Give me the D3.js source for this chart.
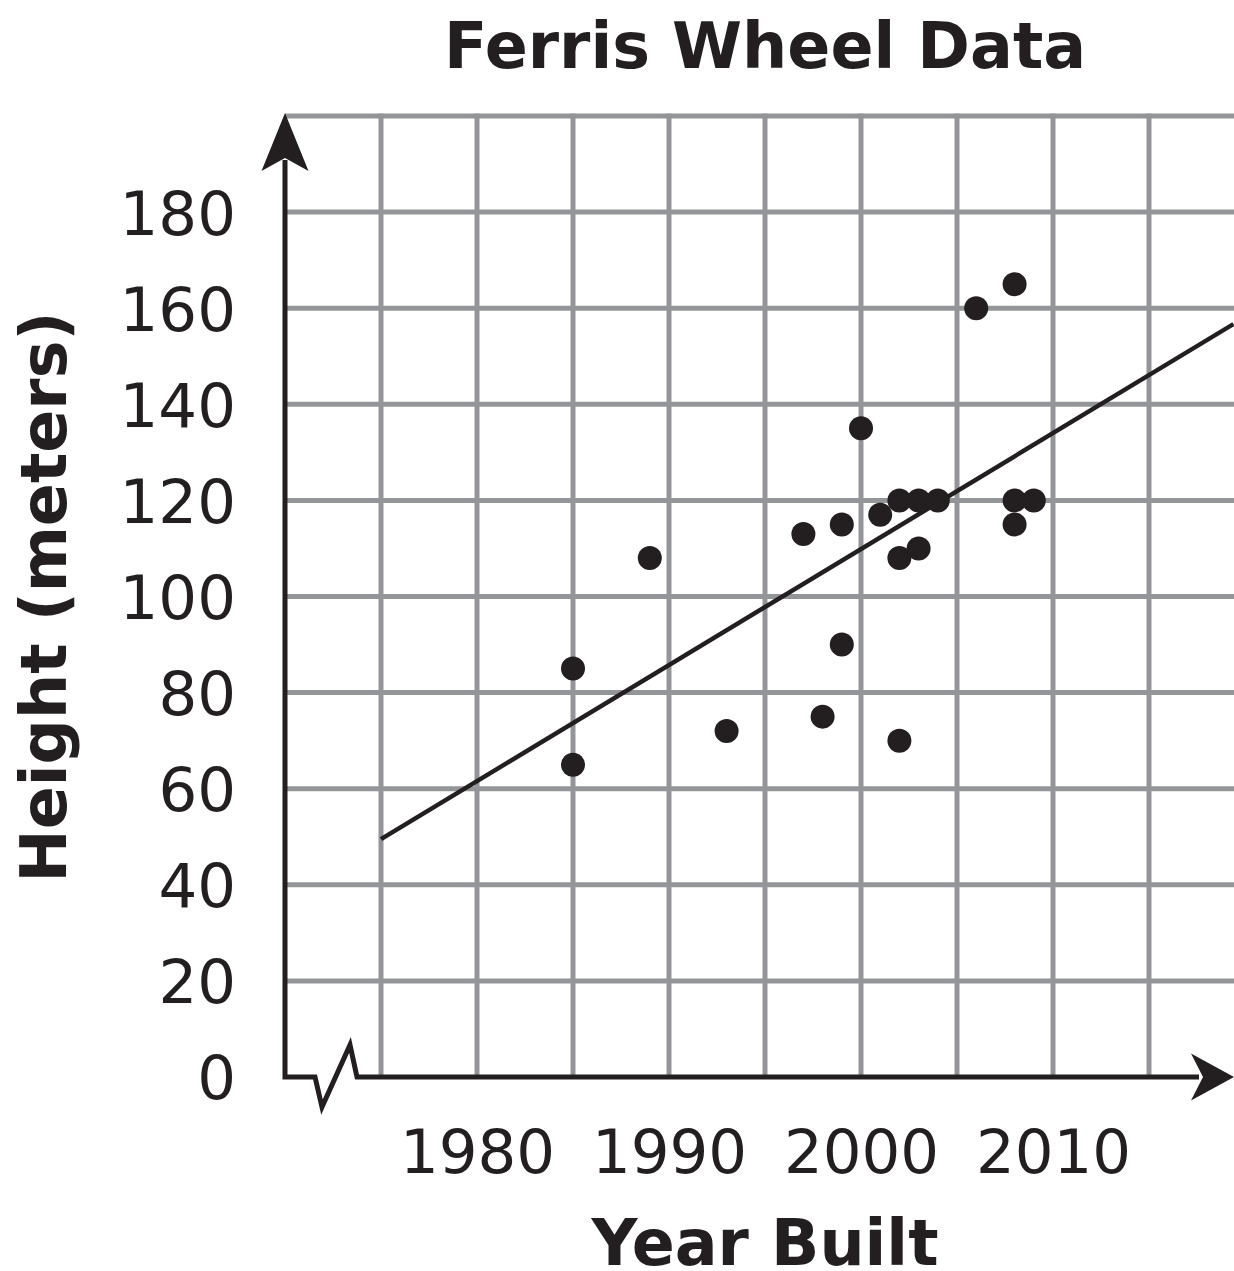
<!DOCTYPE html>
<html>
<head>
<meta charset="utf-8">
<script src="https://cdn.jsdelivr.net/npm/d3@7"></script>
<style>
    body { margin: 0; background: #fff; }
    svg { display: block; }
    .tick-label text { font-family: "DejaVu Sans", Verdana, sans-serif; font-size: 61px; fill: #231f20; }
    .title { font-family: "DejaVu Sans", Verdana, sans-serif; font-weight: bold; font-size: 63.5px; fill: #231f20; }
</style>
</head>
<body>
<div id="chart"></div>
<script>
// data
const years = [1985, 1985, 1989, 1993, 1997, 1998, 1999, 1999, 2000, 2001, 2002, 2002, 2002,
    2003, 2003, 2004, 2006, 2008, 2008, 2008, 2009];
const heights = [85, 65, 108, 72, 113, 75, 115, 90, 135, 117, 120, 108, 70,
    120, 110, 120, 160, 165, 120, 115, 120];
const trendYears = [1975, 2019.4];
const trendHeights = [49.5, 156.7];
const yearTicks = [1980, 1990, 2000, 2010];
const yearGrid = [1975, 1980, 1985, 1990, 1995, 2000, 2005, 2010, 2015];
const heightTicks = [0, 20, 40, 60, 80, 100, 120, 140, 160, 180];
const heightGrid = [20, 40, 60, 80, 100, 120, 140, 160, 180, 200];

const width = 1234,
    height = 1271,
    ink = '#231f20',
    gridColor = '#939598';

const svg = d3.select('#chart').append('svg')
    .attr('width', width)
    .attr('height', height);

const x = d3.scaleLinear()
    .domain([1975, 2015])
    .range([381, 1149]);

const y = d3.scaleLinear()
    .domain([0, 200])
    .range([1077, 116]);

const x0 = x(1970),
    xEnd = width;

// grid
svg.append('g')
    .selectAll('line')
    .data(heightGrid)
    .join('line')
    .attr('x1', x0)
    .attr('x2', xEnd)
    .attr('y1', d => y(d))
    .attr('y2', d => y(d))
    .attr('stroke', gridColor)
    .attr('stroke-width', 5);

svg.append('g')
    .selectAll('line')
    .data(yearGrid)
    .join('line')
    .attr('x1', d => x(d))
    .attr('x2', d => x(d))
    .attr('y1', y(200) - 2.5)
    .attr('y2', y(0))
    .attr('stroke', gridColor)
    .attr('stroke-width', 5);

// trend line
svg.append('line')
    .attr('x1', x(trendYears[0]))
    .attr('y1', y(trendHeights[0]))
    .attr('x2', x(trendYears[1]))
    .attr('y2', y(trendHeights[1]))
    .attr('stroke', ink)
    .attr('stroke-width', 4.5);

// points
svg.append('g')
    .selectAll('circle')
    .data(years.map((d, i) => [d, heights[i]]))
    .join('circle')
    .attr('cx', d => x(d[0]))
    .attr('cy', d => y(d[1]))
    .attr('r', 12)
    .attr('fill', ink);

// axes with the break mark
const yb = y(0);
svg.append('path')
    .attr('d', 'M' + x0 + ',160 L' + x0 + ',' + yb +
        ' L' + (x0 + 30) + ',' + yb +
        ' L' + (x0 + 37) + ',' + (yb + 30) +
        ' L' + (x0 + 65) + ',' + (yb - 32) +
        ' L' + (x0 + 72) + ',' + yb +
        ' L' + (xEnd - 35) + ',' + yb)
    .attr('fill', 'none')
    .attr('stroke', ink)
    .attr('stroke-width', 5)
    .attr('stroke-linejoin', 'miter');

// arrow heads
svg.append('path')
    .attr('d', 'M' + x0 + ',113 L' + (x0 + 23.5) + ',171 L' + x0 + ',158 L' + (x0 - 23.5) + ',171 Z')
    .attr('fill', ink);

svg.append('path')
    .attr('d', 'M' + xEnd + ',' + yb + ' L' + (xEnd - 43) + ',' + (yb + 23.5) +
        ' L' + (xEnd - 31) + ',' + yb + ' L' + (xEnd - 43) + ',' + (yb - 23.5) + ' Z')
    .attr('fill', ink);

// tick labels
const axisY = d3.axisLeft(y)
    .tickValues(heightTicks)
    .tickSize(0)
    .tickPadding(0);

svg.append('g')
    .attr('class', 'tick-label')
    .attr('transform', 'translate(236, 0)')
    .call(axisY)
    .call(g => g.select('.domain').remove())
    .selectAll('text')
    .attr('dy', '0.36em');

const axisX = d3.axisBottom(x)
    .tickValues(yearTicks)
    .tickFormat(d3.format('d'))
    .tickSize(0)
    .tickPadding(0);

svg.append('g')
    .attr('class', 'tick-label')
    .attr('transform', 'translate(0, 1173)')
    .call(axisX)
    .call(g => g.select('.domain').remove())
    .selectAll('text')
    .attr('dy', 0);

svg.selectAll('.tick-label')
    .attr('font-size', null)
    .attr('font-family', null);

// titles
svg.append('text')
    .attr('class', 'title')
    .attr('x', 765)
    .attr('y', 68)
    .attr('text-anchor', 'middle')
    .text('Ferris Wheel Data');

svg.append('text')
    .attr('class', 'title')
    .attr('x', 765)
    .attr('y', 1265)
    .attr('text-anchor', 'middle')
    .text('Year Built');

svg.append('text')
    .attr('class', 'title')
    .attr('transform', 'translate(66, 597) rotate(-90)')
    .attr('text-anchor', 'middle')
    .text('Height (meters)');
</script>
</body>
</html>
